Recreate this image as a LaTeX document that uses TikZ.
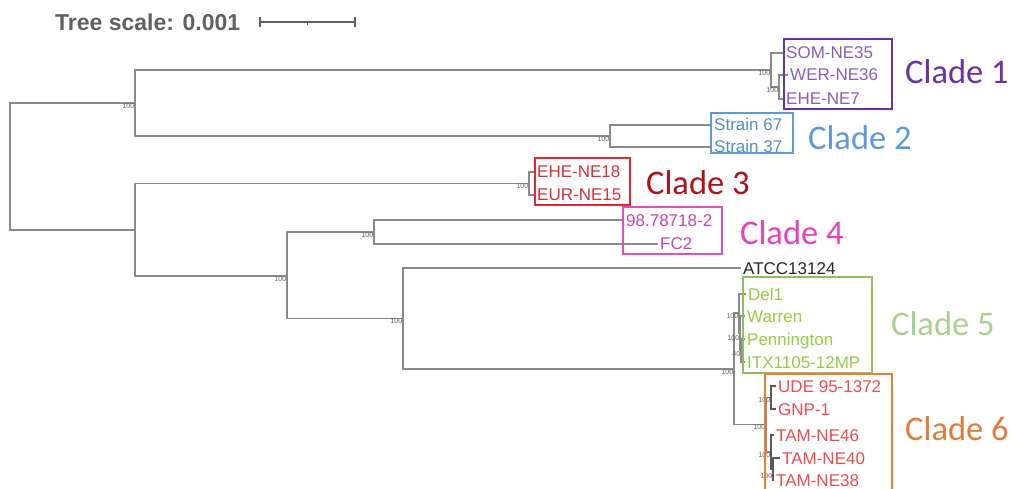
\documentclass[tikz,border=0pt]{standalone}
\usepackage{fontspec}
\setmainfont{Liberation Sans}[BoldFont={Liberation Sans Bold}]
\newfontfamily\carl{Carlito}
\newfontfamily\scalefont{Liberation Sans Bold}
\definecolor{br}{HTML}{8A8A8A}
\definecolor{bsc}{HTML}{606060}
\definecolor{cAbox}{HTML}{7030A0}
\definecolor{cAtxt}{HTML}{8A5CC2}
\definecolor{cBbox}{HTML}{5B9BD5}
\definecolor{cBtxt}{HTML}{4F8FCC}
\definecolor{cCbox}{HTML}{E0262E}
\definecolor{cCtxt}{HTML}{D2323A}
\definecolor{cClab}{HTML}{B0101A}
\definecolor{cDbox}{HTML}{E050C0}
\definecolor{cDtxt}{HTML}{C845A8}
\definecolor{cDlab}{HTML}{E840BE}
\definecolor{cEbox}{HTML}{8DBF5A}
\definecolor{cEtxt}{HTML}{94CC44}
\definecolor{cElab}{HTML}{A9D18E}
\definecolor{cFbox}{HTML}{ED7D31}
\definecolor{cFtxt}{HTML}{EC4C50}
\definecolor{cFlab}{HTML}{E07B39}
\begin{document}
\begin{tikzpicture}[x=1pt,y=-1pt,
  branch/.style={draw=br, line width=1.4pt},
  bs/.style={font=\fontsize{7}{7}\selectfont, text=bsc, anchor=east, inner sep=0.6pt},
  leaf/.style={anchor=west, inner xsep=2pt, inner ysep=0pt, font=\fontsize{17}{17}\selectfont, text height=12pt, text depth=0pt},
  cladebox/.style={line width=1.4pt},
  cladelab/.style={anchor=west, inner sep=0pt, font=\carl\fontsize{34.5}{34.5}\selectfont}]
\useasboundingbox (0,0) rectangle (1012,489);
% scale
\node[anchor=west, inner sep=0pt, font=\scalefont\fontsize{23}{23}\selectfont, text=bsc] (ts) at (55,22) {Tree scale: 0.001};
\coordinate (sb1) at (260,22);
\coordinate (sb2) at (355,22);
\coordinate (sbm) at (307.5,22);
\draw[draw=bsc, line width=1.3pt] (sb1) -- (sb2);
\draw[draw=bsc, line width=1.3pt] ([yshift=5pt]sb1) -- ([yshift=-5pt]sb1);
\draw[draw=bsc, line width=1.3pt] ([yshift=5pt]sb2) -- ([yshift=-5pt]sb2);
\draw[draw=bsc, line width=1.3pt] (sbm) -- ([yshift=-3pt]sbm);
% internal nodes
\coordinate (root) at (10,166.5);
\coordinate (nA) at (135,103);
\coordinate (nB) at (135,230);
\coordinate (c1) at (771,70);
\coordinate (c1b) at (779,87);
\coordinate (c2) at (610,136);
\coordinate (c3) at (529,183.5);
\coordinate (nC) at (287,276);
\coordinate (c4) at (374,232);
\coordinate (nD) at (403,318.5);
\coordinate (nE) at (734,369);
\coordinate (n5a) at (739,313);
\coordinate (n5b) at (740,333);
\coordinate (n5c) at (741,350.5);
\coordinate (c6) at (766,424.5);
\coordinate (c6a) at (771,397.5);
\coordinate (c6b) at (771,452);
\coordinate (c6c) at (773,469);
% leaves
\coordinate (lSOM) at (784,53);
\coordinate (lWER) at (788,75);
\coordinate (lEHE7) at (784,99);
\coordinate (lS67) at (712,125);
\coordinate (lS37) at (712,147);
\coordinate (lE18) at (535,172);
\coordinate (lE15) at (535,195);
\coordinate (l98) at (624,220);
\coordinate (lFC2) at (658,244);
\coordinate (lATCC) at (741,268);
\coordinate (lDel) at (746,294);
\coordinate (lWar) at (745,316);
\coordinate (lPen) at (745,339);
\coordinate (lITX) at (745,362);
\coordinate (lUDE) at (776,386);
\coordinate (lGNP) at (776,409);
\coordinate (lT46) at (774,435);
\coordinate (lT40) at (780,458);
\coordinate (lT38) at (774,480);
% branches
\draw[branch] (root) |- (nA);
\draw[branch] (root) |- (nB);
\draw[branch] (nA) |- (c1);
\draw[branch] (nA) |- (c2);
\draw[branch] (c1) |- (lSOM);
\draw[branch] (c1) |- (c1b);
\draw[branch,line width=1.1pt] (c1b) |- (lWER);
\draw[branch,line width=1.1pt] (c1b) |- (lEHE7);
\draw[branch] (c2) |- (lS67);
\draw[branch] (c2) |- (lS37);
\draw[branch] (nB) |- (c3);
\draw[branch] (nB) |- (nC);
\draw[branch,line width=1.1pt] (c3) |- (lE18);
\draw[branch,line width=1.1pt] (c3) |- (lE15);
\draw[branch] (nC) |- (c4);
\draw[branch] (nC) |- (nD);
\draw[branch] (c4) |- (l98);
\draw[branch] (c4) |- (lFC2);
\draw[branch] (nD) |- (lATCC);
\draw[branch] (nD) |- (nE);
\draw[branch] (nE) |- (n5a);
\draw[branch] (nE) |- (c6);
\draw[branch,line width=1.1pt] (n5a) |- (lDel);
\draw[branch,line width=1.1pt] (n5a) |- (n5b);
\draw[branch,line width=1.1pt] (n5b) |- (lWar);
\draw[branch,line width=1.1pt] (n5b) |- (n5c);
\draw[branch,line width=1.1pt] (n5c) |- (lPen);
\draw[branch,line width=1.1pt] (n5c) |- (lITX);
\draw[branch] (c6) |- (c6a);
\draw[branch] (c6) |- (c6b);
\draw[branch,line width=1.1pt,draw=gray!70!black] (c6a) |- (lUDE);
\draw[branch,line width=1.1pt,draw=gray!70!black] (c6a) |- (lGNP);
\draw[branch,line width=1.1pt,draw=gray!70!black] (c6b) |- (lT46);
\draw[branch,line width=1.1pt,draw=gray!70!black] (c6b) |- (c6c);
\draw[branch,line width=1.1pt,draw=gray!70!black] (c6c) |- (lT40);
\draw[branch,line width=1.1pt,draw=gray!70!black] (c6c) |- (lT38);
% bootstrap values
\node[bs] (bA) at ([yshift=-3pt]nA) {100};
\node[bs] (b1) at ([yshift=-3pt]c1) {100};
\node[bs] (b1b) at ([yshift=-3pt]c1b) {100};
\node[bs] (b2) at ([yshift=-3pt]c2) {100};
\node[bs] (b3) at ([yshift=-3pt]c3) {100};
\node[bs] (bC) at ([yshift=-3pt]nC) {100};
\node[bs] (b4) at ([yshift=-3pt]c4) {100};
\node[bs] (bD) at ([yshift=-3pt]nD) {100};
\node[bs] (bE) at ([yshift=-3pt]nE) {100};
\node[bs] (b5a) at ([yshift=-3pt]n5a) {100};
\node[bs] (b5b) at ([yshift=-5pt]n5b) {100};
\node[bs] (b5c) at ([yshift=-4pt]n5c) {40};
\node[bs] (b6) at ([yshift=-3pt]c6) {100};
\node[bs] (b6a) at ([yshift=-3pt]c6a) {100};
\node[bs] (b6b) at ([yshift=-3pt]c6b) {100};
\node[bs] (b6c) at ([yshift=-7pt]c6c) {100};
% leaf labels
\node[leaf, text=cAtxt] (tSOM) at (lSOM) {SOM-NE35};
\node[leaf, text=cAtxt] (tWER) at (lWER) {WER-NE36};
\node[leaf, text=cAtxt] (tEHE7) at (lEHE7) {EHE-NE7};
\node[leaf, text=cBtxt] (tS67) at (lS67) {Strain 67};
\node[leaf, text=cBtxt] (tS37) at (lS37) {Strain 37};
\node[leaf, text=cCtxt] (tE18) at (lE18) {EHE-NE18};
\node[leaf, text=cCtxt] (tE15) at (lE15) {EUR-NE15};
\node[leaf, text=cDtxt] (t98) at (l98) {98.78718-2};
\node[leaf, text=cDtxt] (tFC2) at (lFC2) {FC2};
\node[leaf, text=black!85] (tATCC) at (lATCC) {ATCC13124};
\node[leaf, text=cEtxt] (tDel) at (lDel) {Del1};
\node[leaf, text=cEtxt] (tWar) at (lWar) {Warren};
\node[leaf, text=cEtxt] (tPen) at (lPen) {Pennington};
\node[leaf, text=cEtxt] (tITX) at (lITX) {ITX1105-12MP};
\node[leaf, text=cFtxt] (tUDE) at (lUDE) {UDE 95-1372};
\node[leaf, text=cFtxt] (tGNP) at (lGNP) {GNP-1};
\node[leaf, text=cFtxt] (tT46) at (lT46) {TAM-NE46};
\node[leaf, text=cFtxt] (tT40) at (lT40) {TAM-NE40};
\node[leaf, text=cFtxt] (tT38) at (lT38) {TAM-NE38};
% clade boxes
\draw[cladebox, draw=cAbox] (784,39) rectangle (892,109);
\draw[cladebox, draw=cBbox] (711,113) rectangle (793,153);
\draw[cladebox, draw=cCbox] (535,158) rectangle (630,205);
\draw[cladebox, draw=cDbox] (623,207) rectangle (722,254);
\draw[cladebox, draw=cEbox] (743,277) rectangle (872,373);
\draw[cladebox, draw=cFbox] (765,495) -- (765,374) -- (892,374) -- (892,495);
% clade labels
\node[cladelab, text=cAbox] (k1) at (905,72) {Clade 1};
\node[cladelab, text=cBbox] (k2) at (808,138) {Clade 2};
\node[cladelab, text=cClab] (k3) at (646,183) {Clade 3};
\node[cladelab, text=cDlab] (k4) at (740,233) {Clade 4};
\node[cladelab, text=cElab] (k5) at (891,324) {Clade 5};
\node[cladelab, text=cFlab] (k6) at (905,429) {Clade 6};
\end{tikzpicture}
\end{document}
